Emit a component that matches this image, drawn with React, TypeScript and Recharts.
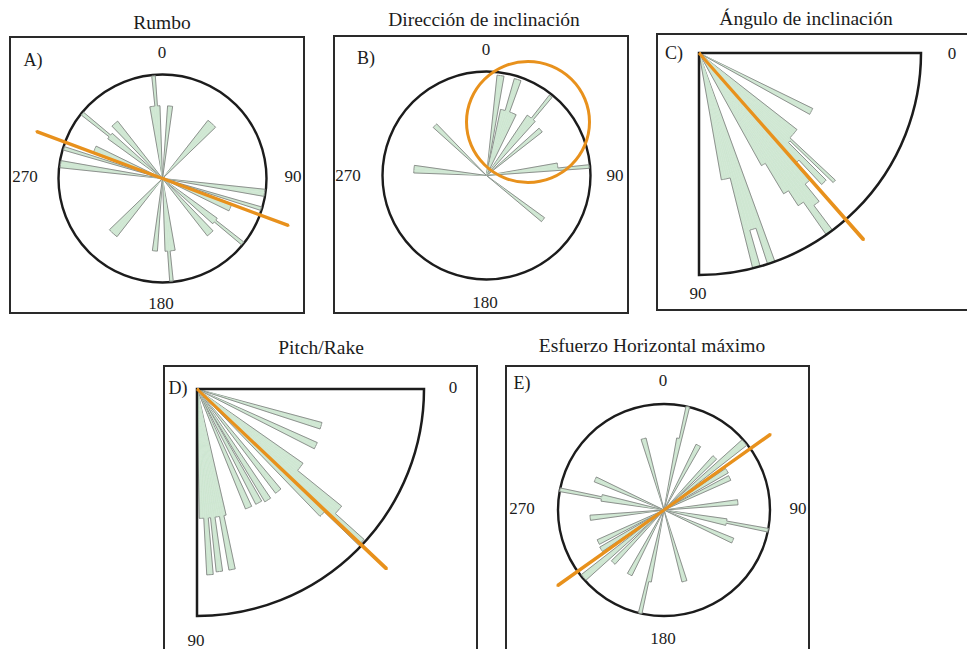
import {
    RadialBarChart,
    RadialBar,
    PolarAngleAxis,
    PolarRadiusAxis,
    PolarGrid,
    PieChart,
    Pie,
} from "recharts";

// petals: [from deg, to deg, length] where 10 = outer circle
type Petal = [number, number, number];

const RUMBO: Petal[] = [
    [352, 360, 7.0], [356, 358, 9.9], [172, 180, 7.0], [176, 178, 9.9],
    [6, 10, 7.0], [186, 190, 7.0],
    [40, 48, 7.1], [220, 228, 7.1],
    [98, 102, 9.9], [278, 282, 9.9],
    [108, 110, 9.9], [288, 290, 9.9],
    [112, 118, 7.1], [292, 298, 7.1],
    [128, 134, 6.5], [130, 132, 9.9], [308, 314, 6.5], [310, 312, 9.9],
    [138, 144, 7.0], [318, 324, 7.0],
];

const DIRECCION: Petal[] = [
    [8, 12, 9.7], [14, 28, 6.5], [18, 22, 9.7],
    [36, 44, 7.0], [40, 42, 9.8], [50, 54, 6.8],
    [82, 88, 6.9], [86, 88, 9.9], [128, 132, 6.9],
    [274, 280, 7.0], [314, 318, 6.9],
];

const ANGULO: Petal[] = [
    [27, 30, 5.7],
    [39, 44, 5.6], [44, 45, 8.4], [45, 46, 5.7], [46, 48, 8.1],
    [48, 50, 6.6], [50, 52, 7.6], [52, 54, 8.6], [54, 56, 10],
    [56, 58, 8.2], [58, 60, 7.4], [60, 62, 5.8],
    [71, 73, 10], [73, 75, 8.3], [75, 77, 10], [77, 81, 5.8],
];

const PITCH: Petal[] = [
    [16, 19, 5.7], [25, 28, 5.8],
    [36, 40, 5.7], [40, 43, 8.2], [43, 45, 9.9], [45, 47, 7.8],
    [51, 54, 5.75], [57, 60, 5.8], [61, 64, 5.7], [66, 69, 5.7],
    [78, 90, 5.7], [79, 81, 8.1], [83, 85, 8.1], [86, 88, 8.2],
];

const ESFUERZO: Petal[] = [
    [12, 16, 6.9], [14, 16, 10], [192, 196, 6.9], [194, 196, 10],
    [344, 348, 7.0], [164, 168, 7.0],
    [28, 32, 6.9], [208, 212, 6.9],
    [44, 48, 6.9], [224, 228, 6.9],
    [50, 54, 9.9], [230, 234, 9.9],
    [58, 62, 7.0], [238, 242, 7.0],
    [64, 68, 6.9], [244, 248, 6.9],
    [84, 88, 7.0], [264, 268, 7.0],
    [100, 106, 6.0], [102, 104, 10], [280, 286, 6.0], [282, 284, 10],
    [114, 118, 7.1], [294, 298, 7.1],
];

// mean directions (compass bearing / dip angle)
const MEAN_RUMBO = 110.5;
const MEAN_ANGULO = 48.6;
const MEAN_PITCH = 43.5;
const MEAN_ESFUERZO = 54.6;

const INK = "#1c1c1c";
const GREEN = "#cfe7d2";
const EDGE = "#7a7a7a";
const ORANGE = "#e8911c";
const SERIF = "'Liberation Serif', 'Times New Roman', serif";
const RAD = Math.PI / 180;

function binRows(petals: Petal[], span: number, step: number, wrap: boolean) {
    const n = Math.round(span / step);
    const vals: number[] = [];
    for (let i = 0; i < n; i++) {
        const mid = i * step + step / 2;
        let v = 0;
        for (const [a, b, len] of petals) if (mid > a && mid < b) v = Math.max(v, len);
        vals.push(v);
    }
    return vals.map((v, i) => ({
        bin: i * step,
        value: v,
        prev: i > 0 ? vals[i - 1] : wrap ? vals[n - 1] : 0,
        next: i < n - 1 ? vals[i + 1] : wrap ? vals[0] : 0,
    }));
}

const xy = (cx: number, cy: number, r: number, a: number) =>
    [cx + r * Math.cos(-a * RAD), cy + r * Math.sin(-a * RAD)];

// sector with outline only where it sticks out past its neighbours
function PetalShape(props: any) {
    const { cx, cy, outerRadius: r, startAngle, endAngle, payload } = props;
    if (!payload || !(payload.value > 0) || !(r > 0)) return null;
    const k = r / payload.value;
    const hi = Math.max(startAngle, endAngle);
    const lo = Math.min(startAngle, endAngle);
    const [x1, y1] = xy(cx, cy, r, hi);
    const [x2, y2] = xy(cx, cy, r, lo);
    const fill = `M${cx},${cy}L${x1},${y1}A${r},${r} 0 0 1 ${x2},${y2}Z`;
    let edge = `M${x1},${y1}A${r},${r} 0 0 1 ${x2},${y2}`;
    if (payload.prev < payload.value) {
        const [px, py] = xy(cx, cy, payload.prev * k, hi);
        edge += `M${px},${py}L${x1},${y1}`;
    }
    if (payload.next < payload.value) {
        const [nx, ny] = xy(cx, cy, payload.next * k, lo);
        edge += `M${nx},${ny}L${x2},${y2}`;
    }
    return (
        <g>
            <path d={fill} fill={GREEN} stroke={GREEN} strokeWidth={0.5} />
            <path d={edge} fill="none" stroke={EDGE} strokeWidth={0.8} />
        </g>
    );
}

interface RoseProps {
    left: number;
    top: number;
    w: number;
    h: number;
    cx: number;
    cy: number;
    R: number;
    reach: number;
    full: boolean;
    petals: Petal[];
    means: number[];
}

function Rose({ left, top, w, h, cx, cy, R, reach, full, petals, means }: RoseProps) {
    const rows = full ? binRows(petals, 360, 2, true) : binRows(petals, 90, 1, false);
    const start = full ? 90 : 0;
    const end = full ? -270 : -90;
    return (
        <>
            <div style={{ position: "absolute", left, top }}>
                <RadialBarChart
                    width={w}
                    height={h}
                    cx={cx}
                    cy={cy}
                    innerRadius={0}
                    outerRadius={R}
                    startAngle={start}
                    endAngle={end}
                    data={rows}
                    layout="centric"
                    barCategoryGap={0}
                    barGap={0}
                    margin={{ top: 0, right: 0, bottom: 0, left: 0 }}
                >
                    <PolarAngleAxis type="category" dataKey="bin" tick={false} tickLine={false} axisLine={false} />
                    <PolarRadiusAxis type="number" domain={[0, 10]} tick={false} axisLine={false} allowDataOverflow />
                    {full && (
                        <PolarGrid
                            gridType="circle"
                            polarAngles={[]}
                            polarRadius={[R]}
                            radialLines={false}
                            stroke={INK}
                            strokeWidth={2.4}
                        />
                    )}
                    <RadialBar dataKey="value" isAnimationActive={false} shape={PetalShape} />
                </RadialBarChart>
            </div>
            <div style={{ position: "absolute", left, top, pointerEvents: "none" }}>
                <PieChart width={w} height={h} margin={{ top: 0, right: 0, bottom: 0, left: 0 }}>
                    {!full && (
                        <Pie
                            data={[{ v: 1 }]}
                            dataKey="v"
                            cx={cx}
                            cy={cy}
                            innerRadius={0}
                            outerRadius={R}
                            startAngle={start}
                            endAngle={end}
                            fill="none"
                            stroke={INK}
                            strokeWidth={2.5}
                            isAnimationActive={false}
                        />
                    )}
                    {/* mean direction: a hair-thin sector drawn as an orange line */}
                    {means.map((a, i) => (
                        <Pie
                            key={i}
                            data={[{ v: 1 }]}
                            dataKey="v"
                            cx={cx}
                            cy={cy}
                            innerRadius={0}
                            outerRadius={R * reach}
                            startAngle={a + 0.1}
                            endAngle={a - 0.1}
                            fill={ORANGE}
                            stroke={ORANGE}
                            strokeWidth={3}
                            strokeLinejoin="bevel"
                            isAnimationActive={false}
                        />
                    ))}
                </PieChart>
            </div>
        </>
    );
}

function Frame({ left, top, w, h }: { left: number; top: number; w: number; h: number }) {
    return (
        <div
            style={{
                position: "absolute",
                left,
                top,
                width: w,
                height: h,
                border: "2px solid #2a2a2a",
                boxSizing: "border-box",
                pointerEvents: "none",
            }}
        />
    );
}

function Txt({ x, y, size, children }: { x: number; y: number; size: number; children: string }) {
    return (
        <div
            style={{
                position: "absolute",
                left: x,
                top: y,
                transform: "translate(-50%, -50%)",
                fontFamily: SERIF,
                fontSize: size,
                lineHeight: 1,
                color: INK,
                whiteSpace: "nowrap",
            }}
        >
            {children}
        </div>
    );
}

export default function App() {
    const bearing = (b: number) => 90 - b;
    return (
        <div
            style={{
                position: "absolute",
                left: 0,
                top: 0,
                width: 967,
                height: 649,
                overflow: "hidden",
                background: "#fff",
            }}
        >
            {/* A) Rumbo */}
            <Rose left={9} top={36} w={296} h={278} cx={153.5} cy={142.5} R={104} reach={1.29} full
                petals={RUMBO} means={[bearing(MEAN_RUMBO), bearing(MEAN_RUMBO + 180)]} />
            <Frame left={9} top={36} w={296} h={278} />
            <Txt x={162} y={23} size={19.5}>Rumbo</Txt>
            <Txt x={33} y={60} size={18}>A)</Txt>
            <Txt x={162} y={52} size={17}>0</Txt>
            <Txt x={25} y={176} size={17}>270</Txt>
            <Txt x={293} y={176} size={17}>90</Txt>
            <Txt x={161} y={303} size={17}>180</Txt>

            {/* B) Dirección de inclinación */}
            <Rose left={333} top={35} w={296} h={279} cx={153.5} cy={140.5} R={104} reach={1} full
                petals={DIRECCION} means={[]} />
            <div
                style={{
                    position: "absolute",
                    left: 528 - 63,
                    top: 122 - 62,
                    width: 126,
                    height: 124,
                    borderRadius: "50%",
                    border: `3px solid ${ORANGE}`,
                    boxSizing: "border-box",
                }}
            />
            <Frame left={333} top={35} w={296} h={279} />
            <Txt x={484} y={20} size={19.5}>Dirección de inclinación</Txt>
            <Txt x={366} y={58} size={18}>B)</Txt>
            <Txt x={486} y={49} size={17}>0</Txt>
            <Txt x={348} y={175} size={17}>270</Txt>
            <Txt x={615} y={175} size={17}>90</Txt>
            <Txt x={485} y={302} size={17}>180</Txt>

            {/* C) Ángulo de inclinación */}
            <Rose left={656} top={33} w={313} h={278} cx={43} cy={20} R={222} reach={1.12} full={false}
                petals={ANGULO} means={[-MEAN_ANGULO]} />
            <Frame left={656} top={33} w={313} h={278} />
            <Txt x={806} y={19} size={19.5}>Ángulo de inclinación</Txt>
            <Txt x={674} y={53} size={18}>C)</Txt>
            <Txt x={952} y={53} size={17}>0</Txt>
            <Txt x={698} y={293} size={17}>90</Txt>

            {/* D) Pitch/Rake */}
            <Rose left={163} top={365} w={315} h={290} cx={34} cy={24} R={227} reach={1.15} full={false}
                petals={PITCH} means={[-MEAN_PITCH]} />
            <Frame left={163} top={365} w={315} h={300} />
            <Txt x={321} y={348} size={19.5}>Pitch/Rake</Txt>
            <Txt x={178} y={388} size={18}>D)</Txt>
            <Txt x={453} y={387} size={17}>0</Txt>
            <Txt x={196} y={640} size={17}>90</Txt>

            {/* E) Esfuerzo Horizontal máximo */}
            <Rose left={505} top={365} w={305} h={290} cx={159} cy={145} R={106} reach={1.23} full
                petals={ESFUERZO} means={[bearing(MEAN_ESFUERZO), bearing(MEAN_ESFUERZO + 180)]} />
            <Frame left={505} top={365} w={305} h={300} />
            <Txt x={652} y={346} size={19.5}>Esfuerzo Horizontal máximo</Txt>
            <Txt x={522} y={383} size={18}>E)</Txt>
            <Txt x={663} y={380} size={17}>0</Txt>
            <Txt x={522} y={508} size={17}>270</Txt>
            <Txt x={798} y={508} size={17}>90</Txt>
            <Txt x={663} y={638} size={17}>180</Txt>
        </div>
    );
}
